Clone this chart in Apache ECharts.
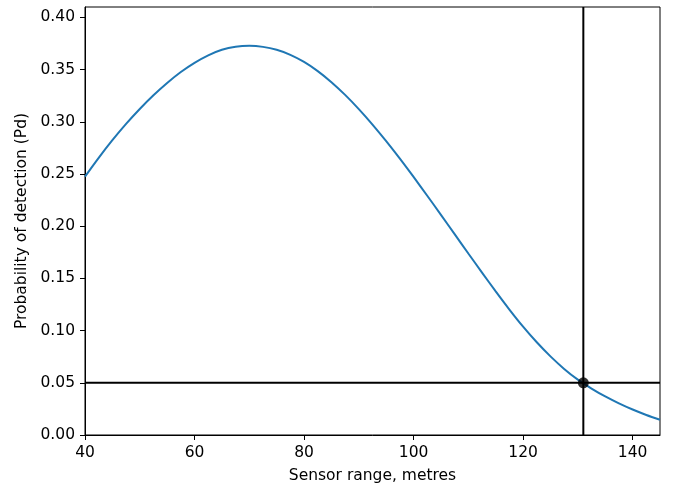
<!DOCTYPE html>
<html>
<head>
<meta charset="utf-8">
<script src="https://cdn.jsdelivr.net/npm/echarts@6/dist/echarts.min.js"></script>
<style>html,body{margin:0;padding:0;background:#fff}#c{width:677px;height:485px}</style>
</head>
<body>
<div id="c"></div>
<script>
const rangeM = [40,42.5,45,47.5,50,52.5,55,57.5,60,62.5,65,67.5,70,72.5,75,77.5,80,82.5,85,87.5,90,92.5,95,97.5,100,102.5,105,107.5,110,112.5,115,117.5,120,122.5,125,127.5,130,132.5,135,137.5,140,142.5,145];
const pd = [0.2475,0.2655,0.2824,0.2980,0.3123,0.3254,0.3372,0.3477,0.3565,0.3637,0.3690,0.3719,0.3728,0.3718,0.3690,0.3642,0.3574,0.3486,0.3380,0.3258,0.3122,0.2974,0.2815,0.2647,0.2472,0.2292,0.2109,0.1924,0.1739,0.1556,0.1376,0.1202,0.1038,0.0888,0.0753,0.0633,0.0530,0.0445,0.0369,0.0303,0.0244,0.0192,0.0146];
const thresholdPd = 0.05;
const thresholdRange = 131;
const xTicks = [40,60,80,100,120,140];
const yTicks = [0,0.05,0.10,0.15,0.20,0.25,0.30,0.35,0.40];

const font = 'DejaVu Sans';
const fs = 15.5;
const chart = echarts.init(document.getElementById('c'), null, {renderer:'canvas'});
chart.setOption({
  animation:false,
  backgroundColor:'#fff',
  grid:{left:85,right:17,top:7,bottom:50,show:true,borderColor:'#000',borderWidth:1,
    containLabel:false,outerBoundsMode:'none'},
  xAxis:{type:'value',min:40,max:145,interval:20,
    name:'Sensor range, metres',nameLocation:'middle',nameGap:33,
    nameTextStyle:{fontFamily:font,fontSize:fs,color:'#000'},
    axisLine:{show:true,lineStyle:{color:'#000',width:1}},
    axisTick:{show:true,length:5,lineStyle:{color:'#000'}},
    axisLabel:{fontFamily:font,fontSize:fs,color:'#000',margin:10,showMaxLabel:false,
      formatter:v=>xTicks.includes(v)?String(v):''},
    splitLine:{show:false}},
  yAxis:{type:'value',min:0,max:0.41,interval:0.05,
    name:'Probability of detection (Pd)',nameLocation:'middle',nameGap:52,nameRotate:90,
    nameTextStyle:{fontFamily:font,fontSize:fs,color:'#000'},
    axisLine:{show:true,lineStyle:{color:'#000',width:1}},
    axisTick:{show:true,length:5,lineStyle:{color:'#000'}},
    axisLabel:{fontFamily:font,fontSize:fs,color:'#000',margin:10,showMaxLabel:false,
      formatter:v=>{const t=yTicks.find(k=>Math.abs(k-v)<1e-9);return t===undefined?'':t.toFixed(2);}},
    splitLine:{show:false}},
  series:[
    {type:'line',data:rangeM.map((x,i)=>[x,pd[i]]),smooth:0.3,showSymbol:false,
      lineStyle:{color:'#1f77b4',width:2},z:3},
    {type:'line',data:[[40,thresholdPd],[145,thresholdPd]],showSymbol:false,
      lineStyle:{color:'#000',width:2},z:4},
    {type:'line',data:[[thresholdRange,0],[thresholdRange,0.41]],showSymbol:false,
      lineStyle:{color:'#000',width:2},z:4},
    {type:'scatter',data:[[thresholdRange,thresholdPd]],symbolSize:11,
      itemStyle:{color:'#000'},z:5}
  ]
});
</script>
</body>
</html>
